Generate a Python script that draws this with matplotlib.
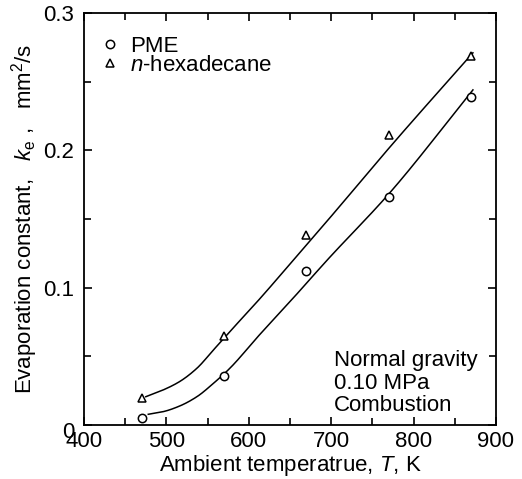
import numpy as np
import matplotlib
matplotlib.use("Agg")
import matplotlib.pyplot as plt
from matplotlib.ticker import MultipleLocator
from matplotlib.transforms import ScaledTranslation

plt.rcParams['font.family'] = ['Liberation Sans', 'DejaVu Sans']
plt.rcParams['mathtext.fontset'] = 'custom'
plt.rcParams['mathtext.it'] = 'Liberation Sans:italic'
plt.rcParams['mathtext.rm'] = 'Liberation Sans'

# measured data
T = [470, 570, 670, 770, 870]
pme = [0.005, 0.036, 0.112, 0.166, 0.239]
hexa = [0.020, 0.065, 0.138, 0.211, 0.269]

# fitted curves
pme_curve_T = [478, 496, 516, 537, 557, 577, 612, 654, 695, 771, 872]
pme_curve_k = [0.0078, 0.0097, 0.0138, 0.0206, 0.0303, 0.0413, 0.0650, 0.0925,
               0.1200, 0.1690, 0.2440]
hexa_curve_T = [475, 496, 516, 537, 557, 577, 612, 654, 700, 775, 872]
hexa_curve_k = [0.0206, 0.0255, 0.0316, 0.0413, 0.0546, 0.0680, 0.0910, 0.1200,
                0.1520, 0.2050, 0.2710]

xticks = [400, 500, 600, 700, 800, 900]
yticks = [0, 0.1, 0.2, 0.3]
yticklabels = ['0', '0.1', '0.2', '0.3']


def pchip(x, y, xn):
    x = np.asarray(x, float)
    y = np.asarray(y, float)
    h = np.diff(x)
    d = np.diff(y) / h
    n = len(x)
    m = np.zeros(n)
    for k in range(1, n - 1):
        if d[k - 1] * d[k] > 0:
            w1 = 2 * h[k] + h[k - 1]
            w2 = h[k] + 2 * h[k - 1]
            m[k] = (w1 + w2) / (w1 / d[k - 1] + w2 / d[k])
    m[0] = d[0]
    m[-1] = d[-1]
    idx = np.clip(np.searchsorted(x, xn) - 1, 0, n - 2)
    t = (xn - x[idx]) / h[idx]
    h00 = 2 * t ** 3 - 3 * t ** 2 + 1
    h10 = t ** 3 - 2 * t ** 2 + t
    h01 = -2 * t ** 3 + 3 * t ** 2
    h11 = t ** 3 - t ** 2
    return h00 * y[idx] + h10 * h[idx] * m[idx] + h01 * y[idx + 1] + h11 * h[idx] * m[idx + 1]


fig = plt.figure(figsize=(5.22, 4.79), dpi=100)
ax = fig.add_axes([84/522, 1-425/479, (496-84)/522, (425-13)/479])

for cx, cy in ((pme_curve_T, pme_curve_k), (hexa_curve_T, hexa_curve_k)):
    xn = np.linspace(cx[0], cx[-1], 400)
    ax.plot(xn, pchip(cx, cy, xn), color='black', lw=1.1)

ax.plot(T, pme, linestyle='none', marker='o', ms=6, mfc='white', mec='black', mew=1.1, label='PME')
ax.plot(T, hexa, linestyle='none', marker='^', ms=6, mfc='white', mec='black', mew=1.1, label='$n$-hexadecane')

ax.set_xlim(400, 900)
ax.set_ylim(0, 0.3)
ax.set_xticks(xticks)
ax.set_yticks(yticks)
ax.set_yticklabels(yticklabels)
ax.xaxis.set_minor_locator(MultipleLocator(50))
ax.yaxis.set_minor_locator(MultipleLocator(0.05))
ax.tick_params(which='both', direction='in', top=True, right=True, labelsize=16, width=1.2)
ax.tick_params(axis='y', pad=7)
ax.tick_params(axis='x', pad=4)
ax.tick_params(which='major', length=6)
ax.tick_params(which='minor', length=5)
for s in ax.spines.values():
    s.set_linewidth(1.3)

t0 = ax.yaxis.get_major_ticks()[0]
t0.label1.set_transform(t0.label1.get_transform()
                        + ScaledTranslation(0, -5 / 100, fig.dpi_scale_trans))

ax.set_xlabel('Ambient temperatrue, $T$, K', fontsize=16, labelpad=1)
ax.set_ylabel('Evaporation constant,   $k_{\\rm e}$ ,   mm$^2$/s', fontsize=16, labelpad=2)

ax.legend(loc='upper left', bbox_to_anchor=(0.0146, 0.961), frameon=False, fontsize=16,
          handletextpad=0.3, borderaxespad=0, handlelength=1.2, labelspacing=-0.08,
          borderpad=0.3)

ax.text(0.607, 0.022, 'Normal gravity\n0.10 MPa\nCombustion', transform=ax.transAxes,
        ha='left', va='bottom', fontsize=16, linespacing=1.08,
        bbox=dict(facecolor='white', edgecolor='none', pad=0))

fig.savefig('out.png', dpi=100)
